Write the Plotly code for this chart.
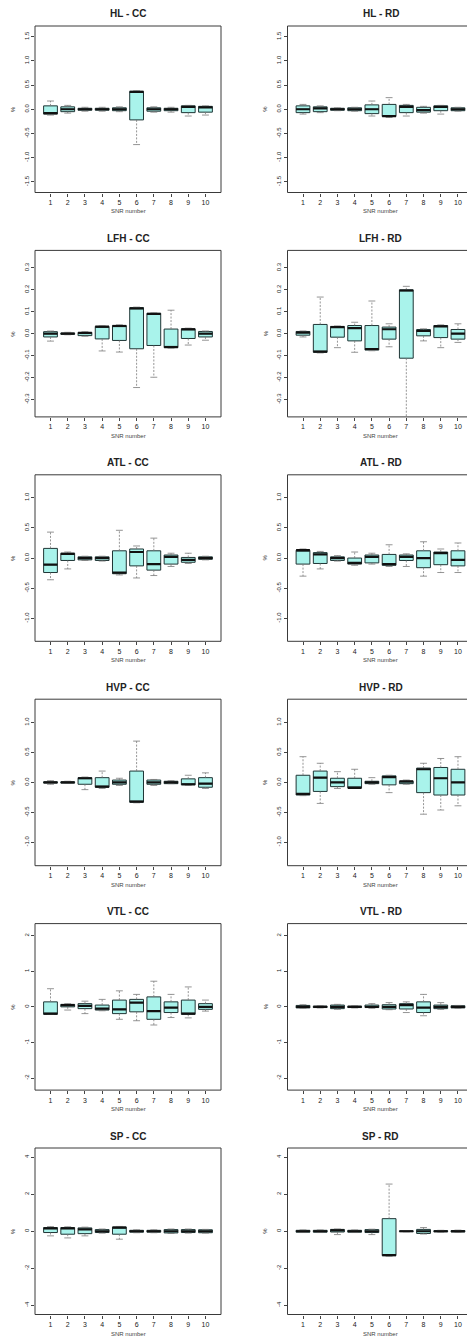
import plotly.graph_objects as go

# ---------------- data ----------------
snr = list(range(1, 11))
snr_labels = [str(i) for i in snr]

# HL - CC
hl_cc_low = [-0.12, -0.08, -0.04, -0.04, -0.05, -0.73, -0.06, -0.06, -0.14, -0.12]
hl_cc_q1 = [-0.10, -0.05, -0.02, -0.02, -0.03, -0.22, -0.04, -0.03, -0.07, -0.06]
hl_cc_med = [-0.08, 0.00, 0.00, 0.00, 0.00, 0.36, 0.00, 0.00, 0.05, 0.04]
hl_cc_q3 = [0.07, 0.05, 0.02, 0.02, 0.03, 0.37, 0.03, 0.02, 0.07, 0.06]
hl_cc_high = [0.17, 0.08, 0.04, 0.04, 0.05, 0.38, 0.05, 0.04, 0.08, 0.07]

# HL - RD
hl_rd_low = [-0.10, -0.07, -0.03, -0.04, -0.14, -0.17, -0.14, -0.08, -0.10, -0.04]
hl_rd_q1 = [-0.07, -0.05, -0.02, -0.03, -0.09, -0.15, -0.07, -0.06, -0.03, -0.03]
hl_rd_med = [0.00, 0.02, 0.00, 0.00, 0.00, -0.14, 0.05, -0.02, 0.05, 0.00]
hl_rd_q3 = [0.07, 0.05, 0.02, 0.03, 0.09, 0.10, 0.08, 0.04, 0.07, 0.03]
hl_rd_high = [0.10, 0.07, 0.03, 0.04, 0.17, 0.24, 0.10, 0.06, 0.08, 0.04]

# LFH - CC
lfh_cc_low = [-0.034, -0.005, -0.012, -0.079, -0.084, -0.246, -0.199, -0.066, -0.052, -0.030]
lfh_cc_q1 = [-0.015, -0.003, -0.009, -0.024, -0.031, -0.069, -0.054, -0.064, -0.022, -0.015]
lfh_cc_med = [0.000, 0.000, 0.003, 0.032, 0.035, 0.115, 0.090, -0.061, 0.020, 0.000]
lfh_cc_q3 = [0.009, 0.003, 0.006, 0.033, 0.037, 0.119, 0.093, 0.021, 0.022, 0.010]
lfh_cc_high = [0.012, 0.006, 0.009, 0.035, 0.040, 0.121, 0.095, 0.107, 0.025, 0.012]

# LFH - RD
lfh_rd_low = [-0.015, -0.088, -0.064, -0.085, -0.078, -0.060, -0.450, -0.033, -0.064, -0.040]
lfh_rd_q1 = [-0.007, -0.085, -0.016, -0.033, -0.075, -0.025, -0.112, -0.010, -0.018, -0.025]
lfh_rd_med = [0.005, -0.082, 0.030, 0.025, -0.070, 0.020, 0.197, 0.012, 0.033, 0.000]
lfh_rd_q3 = [0.010, 0.042, 0.033, 0.037, 0.037, 0.030, 0.200, 0.019, 0.037, 0.019]
lfh_rd_high = [0.012, 0.167, 0.035, 0.052, 0.149, 0.045, 0.216, 0.022, 0.040, 0.045]

# ATL - CC
atl_cc_low = [-0.36, -0.18, -0.04, -0.05, -0.28, -0.33, -0.29, -0.14, -0.09, -0.03]
atl_cc_q1 = [-0.24, -0.04, -0.03, -0.04, -0.26, -0.13, -0.20, -0.10, -0.07, -0.02]
atl_cc_med = [-0.11, 0.07, 0.00, 0.00, -0.24, 0.10, -0.10, 0.02, -0.03, 0.00]
atl_cc_q3 = [0.16, 0.08, 0.02, 0.02, 0.12, 0.15, 0.12, 0.05, 0.01, 0.02]
atl_cc_high = [0.43, 0.10, 0.03, 0.03, 0.46, 0.20, 0.33, 0.08, 0.08, 0.03]

# ATL - RD
atl_rd_low = [-0.30, -0.18, -0.05, -0.12, -0.10, -0.14, -0.14, -0.30, -0.24, -0.24]
atl_rd_q1 = [-0.10, -0.09, -0.04, -0.10, -0.08, -0.12, -0.04, -0.16, -0.11, -0.13]
atl_rd_med = [0.13, 0.06, 0.00, -0.08, 0.02, -0.10, 0.02, 0.00, 0.08, -0.03]
atl_rd_q3 = [0.13, 0.09, 0.02, 0.00, 0.05, 0.06, 0.05, 0.12, 0.10, 0.12]
atl_rd_high = [0.15, 0.11, 0.04, 0.10, 0.08, 0.22, 0.07, 0.27, 0.15, 0.25]

# HVP - CC
hvp_cc_low = [-0.03, -0.01, -0.12, -0.10, -0.05, -0.34, -0.05, -0.02, -0.05, -0.10]
hvp_cc_q1 = [-0.01, -0.01, -0.03, -0.08, -0.03, -0.33, -0.03, -0.02, -0.04, -0.08]
hvp_cc_med = [0.00, 0.00, 0.07, -0.07, 0.00, -0.32, 0.00, 0.00, -0.03, -0.02]
hvp_cc_q3 = [0.01, 0.01, 0.08, 0.08, 0.04, 0.19, 0.04, 0.02, 0.06, 0.08]
hvp_cc_high = [0.03, 0.02, 0.09, 0.19, 0.07, 0.69, 0.05, 0.03, 0.12, 0.16]

# HVP - RD
hvp_rd_low = [-0.22, -0.35, -0.10, -0.10, -0.03, -0.17, -0.03, -0.53, -0.46, -0.39]
hvp_rd_q1 = [-0.21, -0.15, -0.07, -0.09, -0.02, -0.04, -0.02, -0.17, -0.21, -0.21]
hvp_rd_med = [-0.19, 0.08, 0.00, -0.09, 0.00, 0.09, 0.02, 0.22, 0.07, 0.00]
hvp_rd_q3 = [0.12, 0.19, 0.07, 0.07, 0.02, 0.11, 0.02, 0.24, 0.25, 0.22]
hvp_rd_high = [0.43, 0.32, 0.18, 0.22, 0.08, 0.12, 0.04, 0.32, 0.40, 0.43]

# VTL - CC
vtl_cc_low = [-0.21, -0.09, -0.19, -0.11, -0.35, -0.39, -0.51, -0.30, -0.31, -0.12]
vtl_cc_q1 = [-0.21, 0.00, -0.05, -0.09, -0.19, -0.14, -0.35, -0.16, -0.21, -0.07]
vtl_cc_med = [-0.19, 0.05, 0.03, -0.05, -0.07, 0.12, -0.12, -0.02, -0.19, 0.00]
vtl_cc_q3 = [0.14, 0.07, 0.09, 0.05, 0.19, 0.21, 0.28, 0.14, 0.19, 0.09]
vtl_cc_high = [0.51, 0.09, 0.16, 0.21, 0.45, 0.35, 0.72, 0.35, 0.56, 0.19]

# VTL - RD
vtl_rd_low = [-0.04, -0.03, -0.07, -0.03, -0.04, -0.08, -0.16, -0.25, -0.07, -0.04]
vtl_rd_q1 = [-0.03, -0.02, -0.05, -0.02, -0.02, -0.06, -0.06, -0.16, -0.05, -0.03]
vtl_rd_med = [0.00, 0.00, 0.00, 0.00, 0.00, 0.00, 0.05, -0.02, 0.00, 0.00]
vtl_rd_q3 = [0.04, 0.02, 0.05, 0.02, 0.05, 0.06, 0.09, 0.14, 0.05, 0.03]
vtl_rd_high = [0.06, 0.03, 0.07, 0.03, 0.09, 0.12, 0.14, 0.35, 0.12, 0.04]

# SP - CC
sp_cc_low = [-0.25, -0.36, -0.25, -0.10, -0.43, -0.08, -0.08, -0.12, -0.10, -0.10]
sp_cc_q1 = [-0.07, -0.16, -0.13, -0.07, -0.16, -0.05, -0.05, -0.09, -0.07, -0.08]
sp_cc_med = [0.15, 0.15, 0.10, 0.00, 0.20, 0.00, 0.00, 0.00, 0.00, 0.00]
sp_cc_q3 = [0.20, 0.20, 0.18, 0.09, 0.23, 0.05, 0.05, 0.09, 0.09, 0.08]
sp_cc_high = [0.25, 0.24, 0.22, 0.12, 0.26, 0.08, 0.08, 0.12, 0.12, 0.10]

# SP - RD
sp_rd_low = [-0.07, -0.07, -0.18, -0.07, -0.18, -1.35, -0.03, -0.15, -0.05, -0.06]
sp_rd_q1 = [-0.05, -0.05, -0.04, -0.05, -0.07, -1.32, -0.02, -0.12, -0.03, -0.04]
sp_rd_med = [0.00, 0.00, 0.05, 0.00, 0.00, -1.29, 0.00, 0.00, 0.00, 0.00]
sp_rd_q3 = [0.05, 0.05, 0.10, 0.05, 0.09, 0.68, 0.02, 0.10, 0.03, 0.04]
sp_rd_high = [0.07, 0.07, 0.12, 0.07, 0.11, 2.55, 0.03, 0.20, 0.05, 0.06]

# y-axis tick labels per row
hl_ticks = [-1.5, -1.0, -0.5, 0.0, 0.5, 1.0, 1.5]
hl_tick_text = ["-1.5", "-1.0", "-0.5", "0.0", "0.5", "1.0", "1.5"]
lfh_ticks = [-0.3, -0.2, -0.1, 0.0, 0.1, 0.2, 0.3]
lfh_tick_text = ["-0.3", "-0.2", "-0.1", "0.0", "0.1", "0.2", "0.3"]
atl_ticks = [-1.0, -0.5, 0.0, 0.5, 1.0]
atl_tick_text = ["-1.0", "-0.5", "0.0", "0.5", "1.0"]
hvp_ticks = [-1.0, -0.5, 0.0, 0.5, 1.0]
hvp_tick_text = ["-1.0", "-0.5", "0.0", "0.5", "1.0"]
vtl_ticks = [-2, -1, 0, 1, 2]
vtl_tick_text = ["-2", "-1", "0", "1", "2"]
sp_ticks = [-4, -2, 0, 2, 4]
sp_tick_text = ["-4", "-2", "0", "2", "4"]

panels = [
    ("HL - CC", hl_cc_low, hl_cc_q1, hl_cc_med, hl_cc_q3, hl_cc_high, 1.72, hl_ticks, hl_tick_text),
    ("HL - RD", hl_rd_low, hl_rd_q1, hl_rd_med, hl_rd_q3, hl_rd_high, 1.72, hl_ticks, hl_tick_text),
    ("LFH - CC", lfh_cc_low, lfh_cc_q1, lfh_cc_med, lfh_cc_q3, lfh_cc_high, 0.38, lfh_ticks, lfh_tick_text),
    ("LFH - RD", lfh_rd_low, lfh_rd_q1, lfh_rd_med, lfh_rd_q3, lfh_rd_high, 0.38, lfh_ticks, lfh_tick_text),
    ("ATL - CC", atl_cc_low, atl_cc_q1, atl_cc_med, atl_cc_q3, atl_cc_high, 1.38, atl_ticks, atl_tick_text),
    ("ATL - RD", atl_rd_low, atl_rd_q1, atl_rd_med, atl_rd_q3, atl_rd_high, 1.38, atl_ticks, atl_tick_text),
    ("HVP - CC", hvp_cc_low, hvp_cc_q1, hvp_cc_med, hvp_cc_q3, hvp_cc_high, 1.39, hvp_ticks, hvp_tick_text),
    ("HVP - RD", hvp_rd_low, hvp_rd_q1, hvp_rd_med, hvp_rd_q3, hvp_rd_high, 1.39, hvp_ticks, hvp_tick_text),
    ("VTL - CC", vtl_cc_low, vtl_cc_q1, vtl_cc_med, vtl_cc_q3, vtl_cc_high, 2.34, vtl_ticks, vtl_tick_text),
    ("VTL - RD", vtl_rd_low, vtl_rd_q1, vtl_rd_med, vtl_rd_q3, vtl_rd_high, 2.34, vtl_ticks, vtl_tick_text),
    ("SP - CC", sp_cc_low, sp_cc_q1, sp_cc_med, sp_cc_q3, sp_cc_high, 4.5, sp_ticks, sp_tick_text),
    ("SP - RD", sp_rd_low, sp_rd_q1, sp_rd_med, sp_rd_q3, sp_rd_high, 4.5, sp_ticks, sp_tick_text),
]

# ---------------- layout geometry (pixels) ----------------
W, H = 467, 1341
FONT = "Liberation Sans, Arial, sans-serif"
TXT = "#222222"
BOX_FILL = "#a9f3eb"
BOX_LINE = "#1f3535"
WHISK = "#7a7a7a"
PX_PER_UNIT = 17.22
COL_X0 = [35.0, 287.5]
PLOT_W = 186.0
ROW_TOP0, ROW_PITCH, PLOT_H = 26.0, 224.4, 166.5
BOX_HALF = 0.4
CAP_HALF = 0.2

fig = go.Figure()
shapes, annotations = [], []

for k, (title, low, q1, med, q3, high, ylim, tv, tt) in enumerate(panels):
    row, col = divmod(k, 2)
    idx = "" if k == 0 else str(k + 1)
    xa, ya = "x" + idx, "y" + idx
    x0 = COL_X0[col]
    x1_frame = x0 + PLOT_W
    x1_dom = min(x1_frame, W)
    top = ROW_TOP0 + ROW_PITCH * row
    bot = top + PLOT_H
    xr_max = 0.1 + (x1_dom - x0) / PX_PER_UNIT

    # boxes (whiskers drawn separately, dashed)
    fig.add_trace(go.Box(
        x=snr, q1=q1, median=med, q3=q3, lowerfence=q1, upperfence=q3,
        width=2 * BOX_HALF, whiskerwidth=0, fillcolor=BOX_FILL,
        line=dict(color=BOX_LINE, width=1), boxpoints=False,
        hoverinfo="skip", showlegend=False, xaxis=xa, yaxis=ya,
    ))
    wx, wy, cx, cy, mx, my = [], [], [], [], [], []
    for i, lo, a, m, b, hi in zip(snr, low, q1, med, q3, high):
        wx += [i, i, None, i, i, None]
        wy += [b, hi, None, a, lo, None]
        cx += [i - CAP_HALF, i + CAP_HALF, None, i - CAP_HALF, i + CAP_HALF, None]
        cy += [hi, hi, None, lo, lo, None]
        mx += [i - BOX_HALF, i + BOX_HALF, None]
        my += [m, m, None]
    fig.add_trace(go.Scatter(x=wx, y=wy, mode="lines", line=dict(color=WHISK, width=0.8, dash="2px,1.5px"),
                             hoverinfo="skip", showlegend=False, xaxis=xa, yaxis=ya))
    fig.add_trace(go.Scatter(x=cx, y=cy, mode="lines", line=dict(color=WHISK, width=0.8),
                             hoverinfo="skip", showlegend=False, xaxis=xa, yaxis=ya))
    fig.add_trace(go.Scatter(x=mx, y=my, mode="lines", line=dict(color="#111111", width=2.2),
                             hoverinfo="skip", showlegend=False, xaxis=xa, yaxis=ya))

    xdom = [x0 / W, x1_dom / W]
    ydom = [1 - bot / H, 1 - top / H]
    fig.layout["xaxis" + idx] = dict(
        domain=xdom, range=[0.1, xr_max], anchor=ya, tickmode="array", tickvals=snr,
        ticktext=snr_labels, ticks="outside", ticklen=3, tickwidth=0.8, tickcolor="#444",
        tickfont=dict(size=7, color=TXT, family=FONT), showgrid=False, zeroline=False,
        showline=False, fixedrange=True,
    )
    fig.layout["yaxis" + idx] = dict(
        domain=ydom, range=[-ylim, ylim], anchor=xa, tickmode="array", tickvals=tv,
        ticktext=tt, ticks="outside", ticklen=3, tickwidth=0.8, tickcolor="#444",
        tickangle=-90, tickfont=dict(size=6, color=TXT, family=FONT), showgrid=False,
        zeroline=False, showline=False, fixedrange=True,
    )
    shapes.append(dict(type="rect", xref="paper", yref="paper",
                       x0=x0 / W, x1=x1_frame / W, y0=1 - bot / H, y1=1 - top / H,
                       line=dict(color="#3a3a3a", width=1), layer="above"))
    cxp = (x0 + x1_frame) / 2 / W
    annotations.append(dict(text="<b>%s</b>" % title, x=cxp, y=1 - (top - 12) / H, xref="paper", yref="paper",
                            showarrow=False, xanchor="center", yanchor="middle",
                            font=dict(size=10, color=TXT, family=FONT)))
    annotations.append(dict(text="SNR number", x=cxp, y=1 - (bot + 19) / H, xref="paper", yref="paper",
                            showarrow=False, xanchor="center", yanchor="middle",
                            font=dict(size=6, color="#444", family=FONT)))
    annotations.append(dict(text="%", x=(x0 - 22) / W, y=1 - (top + PLOT_H / 2) / H, xref="paper", yref="paper",
                            showarrow=False, xanchor="center", yanchor="middle", textangle=-90,
                            font=dict(size=6, color=TXT, family=FONT)))

fig.update_layout(
    width=W, height=H, margin=dict(l=0, r=0, t=0, b=0),
    paper_bgcolor="white", plot_bgcolor="white",
    shapes=shapes, annotations=annotations, showlegend=False,
)

fig.write_html("out.html")
